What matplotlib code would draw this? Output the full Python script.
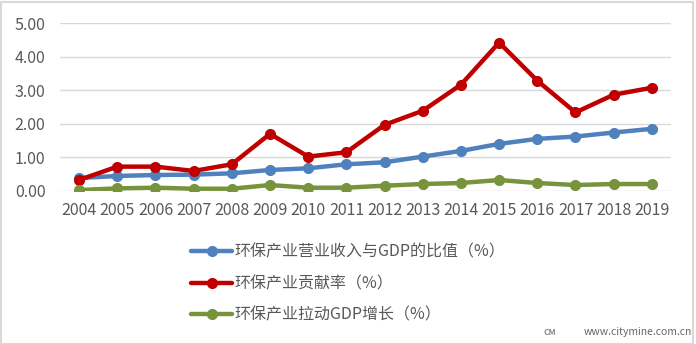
import matplotlib.pyplot as plt
from matplotlib.patches import Rectangle

plt.rcParams['font.family'] = ['Noto Sans CJK SC', 'DejaVu Sans']

years = list(range(2004, 2020))
ratio_gdp = [0.38, 0.44, 0.47, 0.48, 0.52, 0.62, 0.67, 0.79, 0.85, 1.02, 1.19, 1.40, 1.55, 1.62, 1.74, 1.85]
contribution = [0.32, 0.72, 0.72, 0.59, 0.79, 1.70, 1.02, 1.15, 1.97, 2.39, 3.17, 4.43, 3.29, 2.34, 2.87, 3.08]
gdp_pull = [0.02, 0.07, 0.09, 0.06, 0.06, 0.17, 0.09, 0.09, 0.15, 0.20, 0.23, 0.32, 0.23, 0.17, 0.20, 0.20]

labels = ['环保产业营业收入与GDP的比值（%）', '环保产业贡献率（%）', '环保产业拉动GDP增长（%）']
colors = ['#4f81bd', '#c00000', '#77933c']
text_color = '#595959'
grid_color = '#d9d9d9'

fig = plt.figure(figsize=(6.96, 3.44), dpi=100)
ax = fig.add_axes([0.0862, 0.4456, 0.8778, 0.4861])

series = [ratio_gdp, contribution, gdp_pull]
handles = []
for vals, c, lab in zip(series, colors, labels):
    h, = ax.plot(years, vals, color=c, lw=3.2, marker='o', ms=7, label=lab,
                 solid_capstyle='round', zorder=3)
    handles.append(h)

ax.set_xlim(2003.5, 2019.5)
ax.set_ylim(0, 5)
ax.set_yticks([0, 1, 2, 3, 4, 5])
ax.set_yticklabels(['%.2f' % v for v in [0, 1, 2, 3, 4, 5]])
ax.set_xticks(years)
ax.set_xticklabels([str(y) for y in years])
ax.tick_params(length=0, labelsize=11.5, colors=text_color)
ax.tick_params(axis='y', pad=10.5)
ax.tick_params(axis='x', pad=8)
ax.grid(axis='y', color=grid_color, lw=1)
ax.set_axisbelow(True)
for s in ax.spines.values():
    s.set_visible(False)

fig.legend(handles=handles, labels=labels, loc='upper left',
           bbox_to_anchor=(0.265, 0.31), frameon=False, fontsize=11.5,
           labelcolor=text_color, handlelength=2.6, handletextpad=0.1,
           labelspacing=0.9, borderaxespad=0)

fig.text(0.995, 0.02, 'www.citymine.com.cn', ha='right', va='bottom',
         fontsize=7.5, color='#666666')
fig.text(0.79, 0.02, 'CM', ha='center', va='bottom', fontsize=6,
         color='#888888', fontweight='bold')

# light frame around the whole chart
fig.add_artist(Rectangle((0.002, 0.0), 0.994, 0.994, transform=fig.transFigure,
                         fill=False, ec=grid_color, lw=1.5))

fig.savefig('out.png', dpi=100)
